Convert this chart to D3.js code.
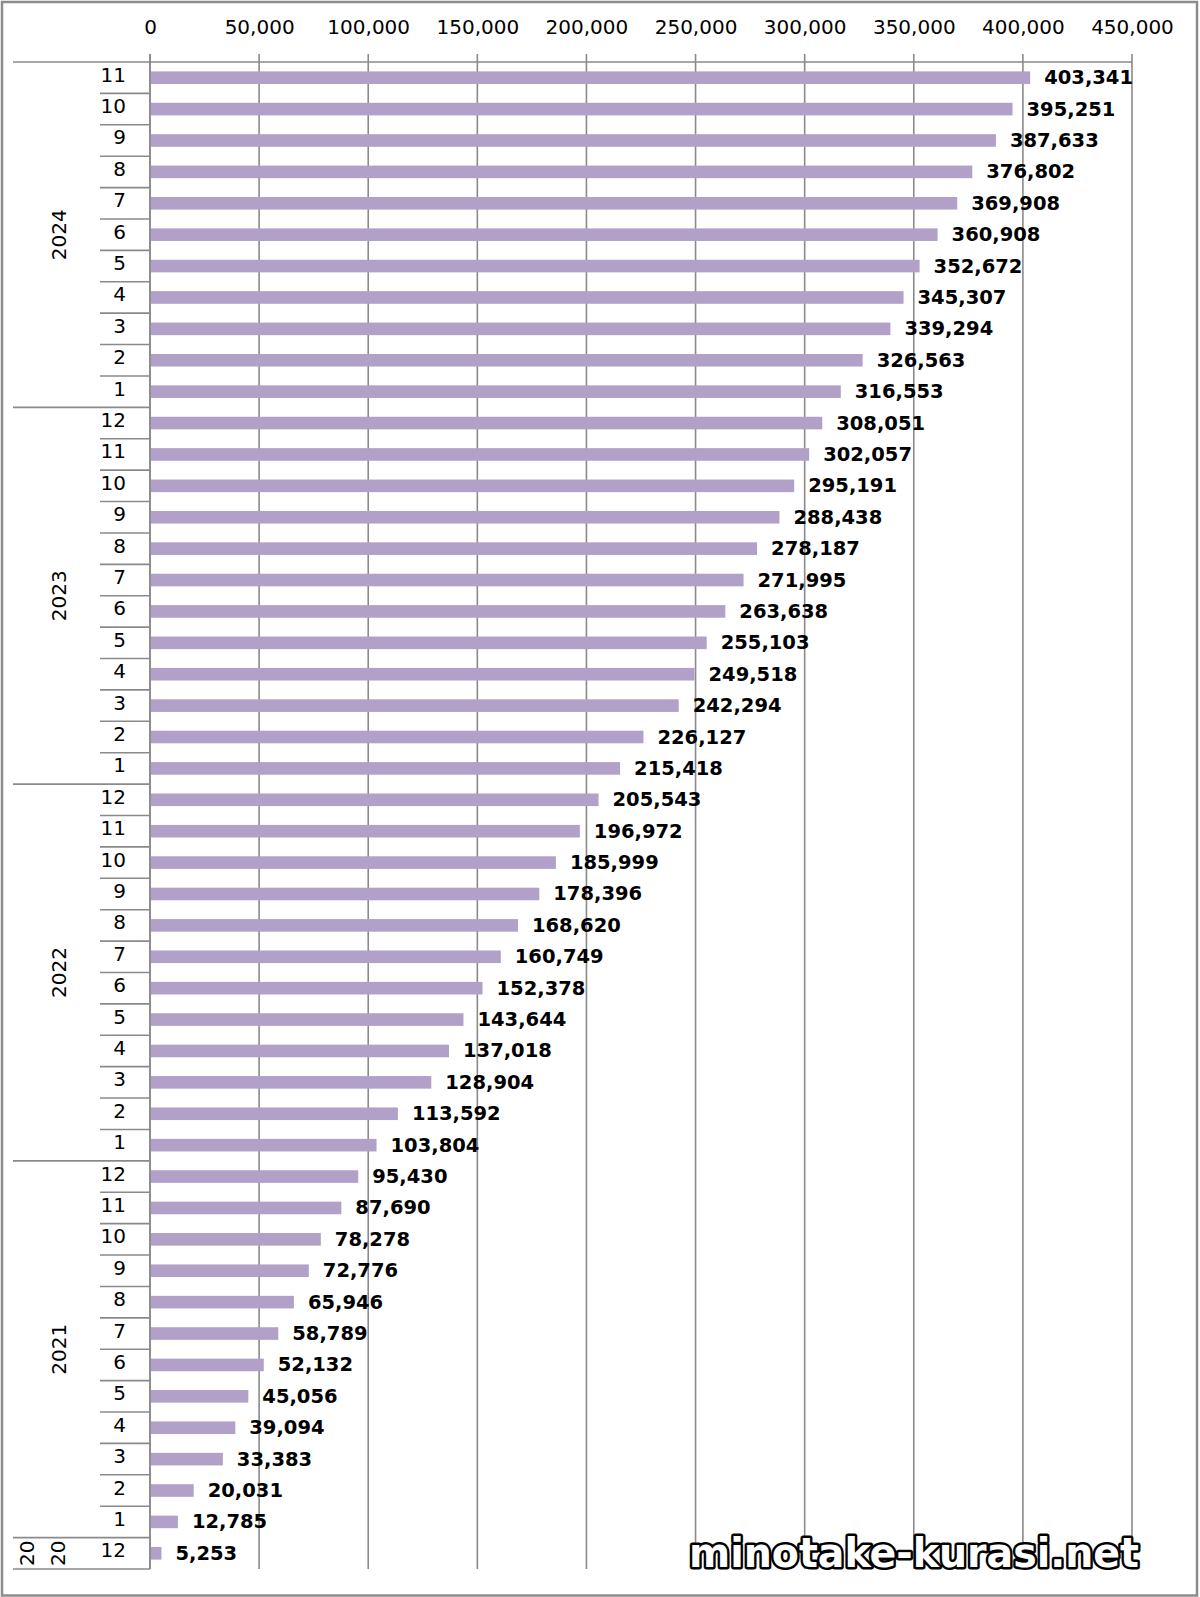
<!DOCTYPE html>
<html>
<head>
<meta charset="utf-8">
<script src="https://cdn.jsdelivr.net/npm/d3@7"></script>
<style>
  html, body { margin: 0; padding: 0; background: #fff; }
  svg { display: block; }
</style>
</head>
<body>
<script>
// ---- data (top to bottom) ----
const years = ["2024","2024","2024","2024","2024","2024","2024","2024","2024","2024","2024",
  "2023","2023","2023","2023","2023","2023","2023","2023","2023","2023","2023","2023",
  "2022","2022","2022","2022","2022","2022","2022","2022","2022","2022","2022","2022",
  "2021","2021","2021","2021","2021","2021","2021","2021","2021","2021","2021","2021",
  "2020"];
const months = ["11","10","9","8","7","6","5","4","3","2","1",
  "12","11","10","9","8","7","6","5","4","3","2","1",
  "12","11","10","9","8","7","6","5","4","3","2","1",
  "12","11","10","9","8","7","6","5","4","3","2","1",
  "12"];
const values = [403341,395251,387633,376802,369908,360908,352672,345307,339294,326563,316553,
  308051,302057,295191,288438,278187,271995,263638,255103,249518,242294,226127,215418,
  205543,196972,185999,178396,168620,160749,152378,143644,137018,128904,113592,103804,
  95430,87690,78278,72776,65946,58789,52132,45056,39094,33383,20031,12785,
  5253];
const tickValues = [0,50000,100000,150000,200000,250000,300000,350000,400000,450000];
const watermark = "minotake-kurasi.net";

// ---- layout ----
const W = 1200, H = 1597;
const plot = { left: 150, right: 1132, top: 62, bottom: 1569 };
const gridColor = "#8a8a8a";
const barColor = "#b1a0c8";
const font = "'DejaVu Sans', Verdana, sans-serif";

const svg = d3.select("body").append("svg").attr("width", W).attr("height", H);

svg.append("rect").attr("x", 2).attr("y", 2).attr("width", 1195).attr("height", 1593.5)
  .attr("fill", "#fff").attr("stroke", "#8c8c8c").attr("stroke-width", 2.5);

const idx = d3.range(values.length);
const x = d3.scaleLinear().domain([0, 450000]).range([plot.left, plot.right]);
const y = d3.scaleBand().domain(idx).range([plot.top, plot.bottom]).paddingInner(0).paddingOuter(0);
const bw = y.bandwidth();

// gridlines + top tick marks
svg.append("g").selectAll("line").data(tickValues).join("line")
  .attr("x1", d => x(d)).attr("x2", d => x(d))
  .attr("y1", plot.top - 8).attr("y2", plot.bottom)
  .attr("stroke", gridColor).attr("stroke-width", 1.6);

// top axis line
svg.append("line").attr("x1", plot.left).attr("x2", plot.right)
  .attr("y1", plot.top).attr("y2", plot.top)
  .attr("stroke", gridColor).attr("stroke-width", 1.6);

// top axis labels
const axis = d3.axisTop(x).tickValues(tickValues).tickFormat(d3.format(",")).tickSize(0).tickPadding(0);
const gAxis = svg.append("g").attr("transform", `translate(0,${plot.top})`).call(axis);
gAxis.select(".domain").remove();
gAxis.selectAll("text").attr("font-family", font).attr("font-size", 20).attr("fill", "#000")
  .attr("y", -28).attr("dy", 0);

// bars
const barH = 12.6;
svg.append("g").selectAll("rect").data(idx).join("rect")
  .attr("x", x(0) + 1)
  .attr("y", i => y(i) + bw / 2 - barH / 2)
  .attr("width", i => x(values[i]) - x(0) - 1)
  .attr("height", barH)
  .attr("fill", barColor);

// value labels
svg.append("g").selectAll("text").data(idx).join("text")
  .attr("x", i => x(values[i]) + 14)
  .attr("y", i => y(i) + bw / 2 + 6.5)
  .attr("font-family", font).attr("font-weight", "bold").attr("font-size", 19.5)
  .attr("fill", "#000")
  .text(i => d3.format(",")(values[i]));

// category axis: month labels
svg.append("g").selectAll("text").data(idx).join("text")
  .attr("x", 126).attr("y", i => y(i) + bw / 2 + 4)
  .attr("text-anchor", "end")
  .attr("font-family", font).attr("font-size", 20).attr("fill", "#000")
  .text(i => months[i]);

// separators
const sepG = svg.append("g").attr("stroke", gridColor).attr("stroke-width", 1.6);
idx.forEach(i => {
  const yy = y(i);
  const newYear = i === 0 || years[i] !== years[i - 1];
  sepG.append("line").attr("x1", newYear ? 13 : 100).attr("x2", plot.left)
    .attr("y1", yy).attr("y2", yy);
});
sepG.append("line").attr("x1", 13).attr("x2", plot.left)
  .attr("y1", plot.bottom).attr("y2", plot.bottom);

// year labels
const groups = d3.groups(idx, i => years[i]);
groups.forEach(([yr, arr]) => {
  const y0 = y(arr[0]), y1 = y(arr[arr.length - 1]) + bw;
  const cy = (y0 + y1) / 2;
  if (arr.length > 1) {
    svg.append("text").attr("transform", `translate(${66},${cy}) rotate(-90)`)
      .attr("text-anchor", "middle")
      .attr("font-family", font).attr("font-size", 20).attr("fill", "#000")
      .text(yr);
  } else {
    // too narrow: wrapped into two pieces
    [yr.slice(0, 2), yr.slice(2)].forEach((part, k) => {
      svg.append("text").attr("transform", `translate(${34 + k * 31},${cy}) rotate(-90)`)
        .attr("text-anchor", "middle")
        .attr("font-family", font).attr("font-size", 20).attr("fill", "#000")
        .text(part);
    });
  }
});

// axis line at zero (category axis)
svg.append("line").attr("x1", plot.left).attr("x2", plot.left)
  .attr("y1", plot.top - 8).attr("y2", plot.bottom)
  .attr("stroke", gridColor).attr("stroke-width", 1.6);

// watermark
svg.append("text").attr("x", 689).attr("y", 1567)
  .attr("font-family", "'DejaVu Sans', sans-serif").attr("font-weight", "bold")
  .attr("font-size", 40)
  .attr("textLength", 450).attr("lengthAdjust", "spacingAndGlyphs")
  .attr("fill", "#fff").attr("stroke", "#000").attr("stroke-width", 5)
  .attr("stroke-linejoin", "round").attr("paint-order", "stroke")
  .text(watermark);
</script>
</body>
</html>
